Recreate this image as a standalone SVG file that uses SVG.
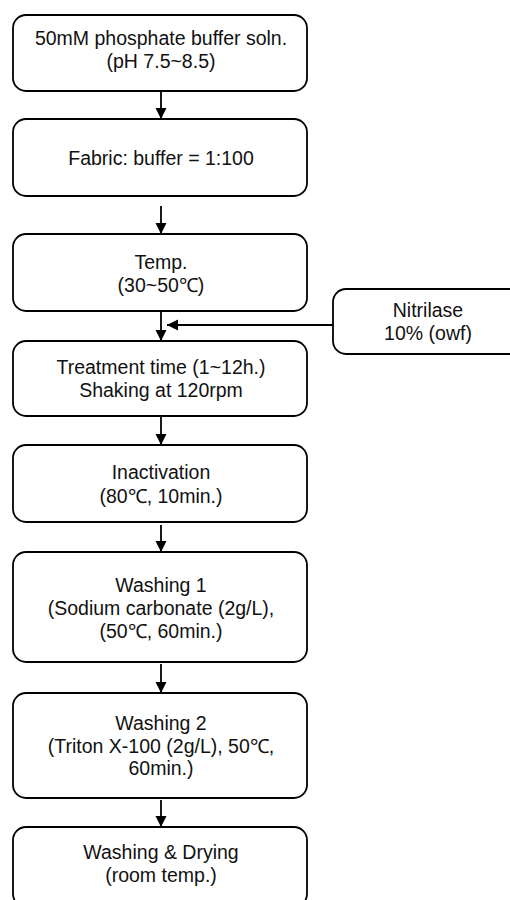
<svg xmlns="http://www.w3.org/2000/svg" width="510" height="900" viewBox="0 0 510 900">
<defs>
<style>
.box{fill:#fff;stroke:#000;stroke-width:1.8}
.t{font-family:"Liberation Sans",Arial,sans-serif;font-size:19.5px;fill:#111;text-anchor:middle}
.c{stroke:#000;stroke-width:1.8;fill:none;marker-end:url(#ah)}
</style>
<marker id="ah" markerUnits="userSpaceOnUse" markerWidth="12" markerHeight="12" viewBox="0 0 12 12" refX="11" refY="6" orient="auto">
<path d="M0,0.5 L11,6 L0,11.5 Z" fill="#000"/>
</marker>
</defs>
<rect width="510" height="900" fill="#fff"/>
<g id="connectors">
<line class="c" x1="161" y1="91" x2="161" y2="119"/>
<line class="c" x1="161" y1="206" x2="161" y2="234"/>
<line class="c" x1="161" y1="311" x2="161" y2="341"/>
<line class="c" x1="333" y1="325" x2="167" y2="325"/>
<line class="c" x1="161" y1="416" x2="161" y2="445"/>
<line class="c" x1="161" y1="525" x2="161" y2="552"/>
<line class="c" x1="161" y1="664" x2="161" y2="693"/>
<line class="c" x1="161" y1="800" x2="161" y2="827"/>
</g>
<g id="n1"><rect class="box" x="13" y="15" width="294" height="76" rx="13"/>
<text class="t" x="161" y="45">50mM phosphate buffer soln.</text>
<text class="t" x="161" y="68">(pH 7.5~8.5)</text></g>
<g id="n2"><rect class="box" x="13" y="119" width="294" height="77" rx="13"/>
<text class="t" x="161" y="165">Fabric: buffer = 1:100</text></g>
<g id="n3"><rect class="box" x="13" y="234" width="294" height="77" rx="13"/>
<text class="t" x="161" y="269">Temp.</text>
<text class="t" x="161" y="292">(30~50℃)</text></g>
<g id="nitrilase"><rect class="box" x="333" y="289" width="190" height="65" rx="13"/>
<text class="t" x="428" y="317">Nitrilase</text>
<text class="t" x="428" y="340">10% (owf)</text></g>
<g id="n4"><rect class="box" x="13" y="341" width="294" height="75" rx="13"/>
<text class="t" x="161" y="374">Treatment time (1~12h.)</text>
<text class="t" x="161" y="397">Shaking at 120rpm</text></g>
<g id="n5"><rect class="box" x="13" y="445" width="294" height="77" rx="13"/>
<text class="t" x="161" y="479">Inactivation</text>
<text class="t" x="161" y="503">(80℃, 10min.)</text></g>
<g id="n6"><rect class="box" x="13" y="552" width="294" height="110" rx="13"/>
<text class="t" x="161" y="592">Washing 1</text>
<text class="t" x="161" y="615">(Sodium carbonate (2g/L),</text>
<text class="t" x="161" y="638">(50℃, 60min.)</text></g>
<g id="n7"><rect class="box" x="13" y="693" width="294" height="105" rx="13"/>
<text class="t" x="161" y="730">Washing 2</text>
<text class="t" x="161" y="753">(Triton X-100 (2g/L), 50℃,</text>
<text class="t" x="161" y="775">60min.)</text></g>
<g id="n8"><rect class="box" x="13" y="827" width="294" height="80" rx="13"/>
<text class="t" x="161" y="859">Washing &amp; Drying</text>
<text class="t" x="161" y="882">(room temp.)</text></g>
</svg>
